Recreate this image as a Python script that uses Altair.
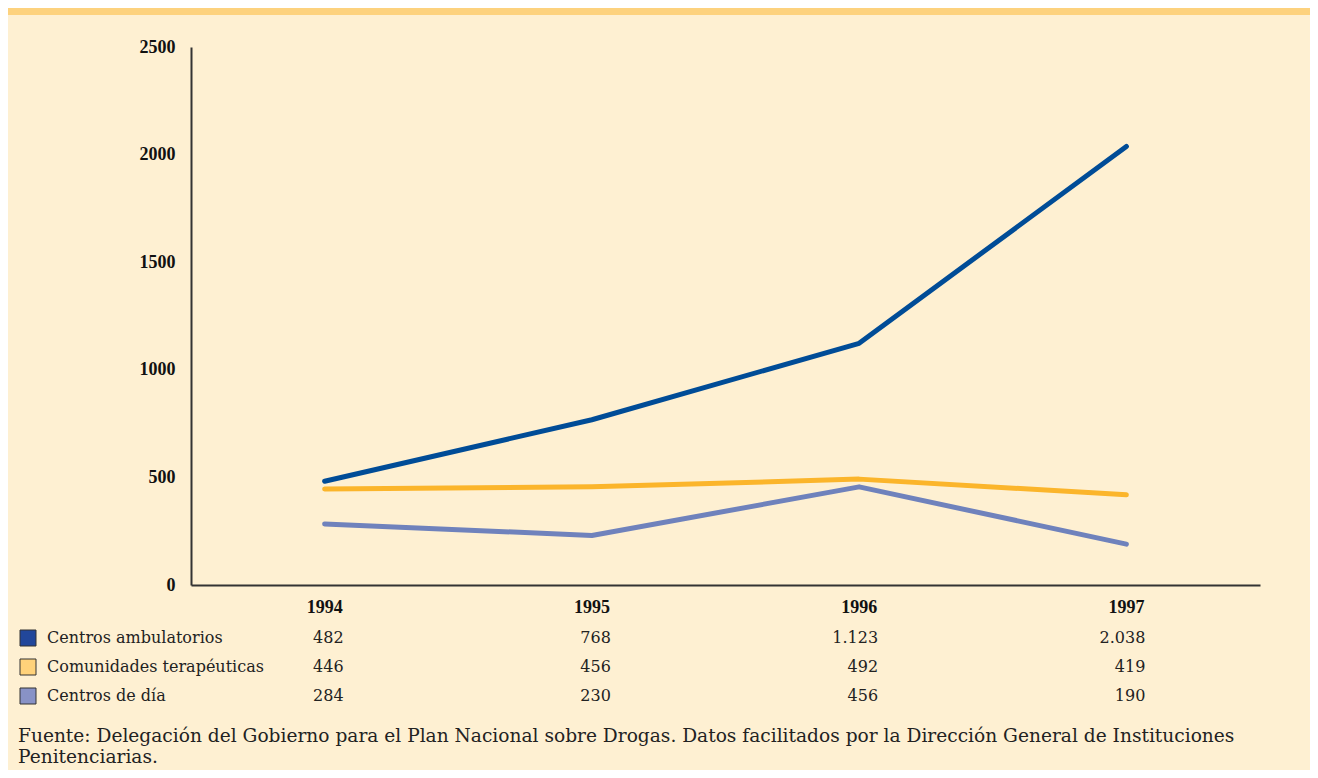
import altair as alt
import pandas as pd

years = [1994, 1995, 1996, 1997]
series = ["Centros ambulatorios", "Comunidades terapéuticas", "Centros de día"]
ambulatorios = [482, 768, 1123, 2038]
comunidades = [446, 456, 492, 419]
dia = [284, 230, 456, 190]
ambulatorios_txt = ["482", "768", "1.123", "2.038"]
comunidades_txt = ["446", "456", "492", "419"]
dia_txt = ["284", "230", "456", "190"]
line_colors = ["#004C97", "#FBB52B", "#6F82BC"]
swatch_colors = ["#22479A", "#FFD27A", "#8892C6"]
footer = ["Fuente: Delegación del Gobierno para el Plan Nacional sobre Drogas. Datos facilitados por la Dirección General de Instituciones",
          "Penitenciarias."]
y_ticks = [0, 500, 1000, 1500, 2000, 2500]

BG = "#FEF0D2"
W, H = 1069, 538
PL, PT = 183, 39
PR = 1302 - PL - W
PB = 762 - PT - H
SERIF = "DejaVu Serif"
BOLD = "Liberation Serif"
INK = "#222222"

rows = []
for s, vals, txts in zip(series, [ambulatorios, comunidades, dia], [ambulatorios_txt, comunidades_txt, dia_txt]):
    for yr, v, t in zip(years, vals, txts):
        rows.append({"year": yr, "value": v, "series": s, "label": t})
df = pd.DataFrame(rows)

xs = alt.X("year:Q", scale=alt.Scale(domain=[1993.5, 1997.5], nice=False, zero=False),
           axis=alt.Axis(title=None, labels=False, ticks=False, grid=False,
                         domainColor="#333333", domainWidth=2))
ys = alt.Y("value:Q", scale=alt.Scale(domain=[0, 2500], nice=False),
           axis=alt.Axis(title=None, values=y_ticks, ticks=False, grid=False, format="d",
                         domainColor="#333333", domainWidth=2,
                         labelFont=BOLD, labelFontWeight="bold", labelFontSize=18,
                         labelColor="#111111", labelPadding=16))
color = alt.Color("series:N", scale=alt.Scale(domain=series, range=line_colors), legend=None)

lines = alt.Chart(df).mark_line(strokeWidth=5, strokeCap="round", strokeJoin="round").encode(
    x=xs, y=ys, color=color, detail="series:N")

band = alt.Chart(pd.DataFrame({"a": [0]})).mark_rect(color="#FDD27E").encode(
    x=alt.value(-PL), x2=alt.value(W + PR), y=alt.value(-PT), y2=alt.value(-PT + 7))

ydf = pd.DataFrame({"year": years, "txt": [str(y) for y in years]})
year_lbl = alt.Chart(ydf).mark_text(font=BOLD, fontWeight="bold", fontSize=18, color="#111111",
                                    align="center", baseline="middle").encode(
    x=alt.X("year:Q"), y=alt.value(H + 23), text="txt:N")

row_y = {series[0]: H + 53, series[1]: H + 82, series[2]: H + 111}
layers = [band, lines, year_lbl]
for i, s in enumerate(series):
    sub = df[df.series == s]
    layers.append(alt.Chart(sub).mark_text(font=SERIF, fontSize=16, color=INK,
                                           align="right", baseline="middle", dx=19).encode(
        x=alt.X("year:Q"), y=alt.value(row_y[s]), text="label:N"))
    sw = pd.DataFrame({"series": [s]})
    layers.append(alt.Chart(sw).mark_rect(fill=swatch_colors[i], stroke="#333333", strokeWidth=1).encode(
        x=alt.value(-171), x2=alt.value(-155), y=alt.value(row_y[s] - 8), y2=alt.value(row_y[s] + 8)))
    layers.append(alt.Chart(sw).mark_text(font=SERIF, fontSize=16, color=INK,
                                          align="left", baseline="middle").encode(
        x=alt.value(-144), y=alt.value(row_y[s]), text="series:N"))

for i, t in enumerate(footer):
    layers.append(alt.Chart(pd.DataFrame({"t": [t]})).mark_text(
        font=SERIF, fontSize=18.6, color=INK, align="left", baseline="middle").encode(
        x=alt.value(-173), y=alt.value(H + 151 + 21 * i), text="t:N"))

chart = alt.layer(*layers).properties(
    width=W, height=H, background=BG,
    padding={"left": PL, "top": PT, "right": PR, "bottom": PB},
    autosize=alt.AutoSizeParams(type="none"),
).configure_view(stroke=None)

chart.save("out.html", embed_options={"renderer": "svg", "actions": False})
